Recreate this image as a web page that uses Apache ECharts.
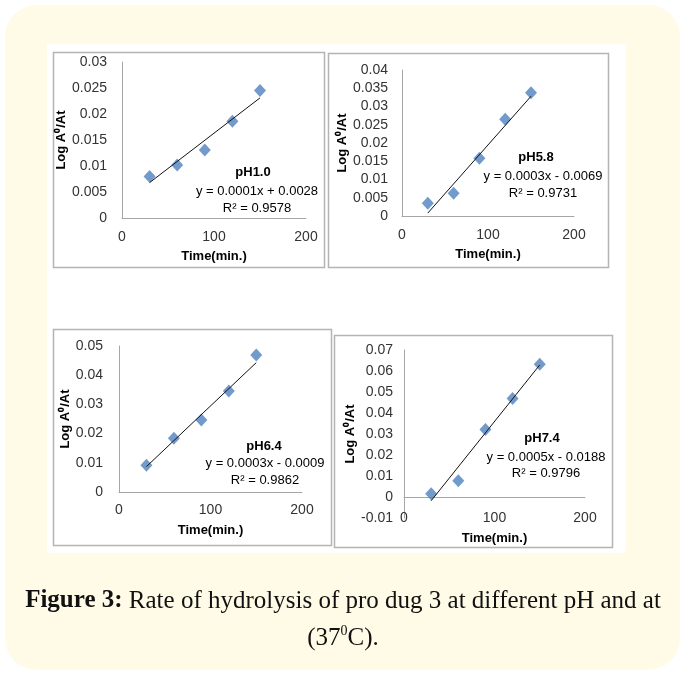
<!DOCTYPE html>
<html>
<head>
<meta charset="utf-8">
<script src="https://cdn.jsdelivr.net/npm/echarts@6/dist/echarts.min.js"></script>
<style>
html,body{margin:0;padding:0;background:#ffffff;}
#c{width:680px;height:675px;}
</style>
</head>
<body>
<div id="c"></div>
<script>
// ---- data ----
const times = [30, 60, 90, 120, 150];
const ph10 = [0.0080, 0.0102, 0.0131, 0.0186, 0.0245];
const ph58 = [0.0035, 0.0062, 0.0158, 0.0265, 0.0338];
const ph64 = [0.0092, 0.0184, 0.0247, 0.0346, 0.0469];
const ph74 = [0.0016, 0.0077, 0.0322, 0.0469, 0.0632];

const trendX = [30, 150];
const trend10 = [0.0068, 0.0231];
const trend58 = [0.0008, 0.0328];
const trend64 = [0.0087, 0.0443];
const trend74 = [-0.0018, 0.0629];

const phLabels = ['pH1.0', 'pH5.8', 'pH6.4', 'pH7.4'];
const eqLabels = ['y = 0.0001x + 0.0028', 'y = 0.0003x - 0.0069', 'y = 0.0003x - 0.0009', 'y = 0.0005x - 0.0188'];
const r2Labels = ['R\u00B2 = 0.9578', 'R\u00B2 = 0.9731', 'R\u00B2 = 0.9862', 'R\u00B2 = 0.9796'];

const xTicks = {min: 0, max: 200, interval: 100};
const yTicks = [
  {min: 0, max: 0.03, interval: 0.005},
  {min: 0, max: 0.04, interval: 0.005},
  {min: 0, max: 0.05, interval: 0.01},
  {min: -0.01, max: 0.07, interval: 0.01}
];
const xTitle = 'Time(min.)';
const yTitle = 'Log A\u2070/At';
const captionBold = 'Figure 3:';
const captionRest = ' Rate of hydrolysis of pro dug 3 at different pH and at';
const captionLine2a = '(37';
const captionSup = '0';
const captionLine2b = 'C).';

// ---- layout ----
const FONT = '"Liberation Sans", Arial, sans-serif';
const grids = [
  {left: 122, top: 62, width: 184, height: 156},
  {left: 402, top: 70, width: 172, height: 146},
  {left: 119, top: 346, width: 183, height: 146},
  {left: 404, top: 350, width: 181, height: 168}
];
const yLabelMargin = [15, 14, 16, 11];
const yNameGap = [45, 50, 42, 47];
const xLabelMargin = [12, 12, 11, -7];
const xNameGap = [32, 32, 32, 14];
const panels = [
  [53, 52, 271, 215],
  [328, 53, 280, 214],
  [53, 329, 278, 216],
  [334, 335, 278, 212]
];
const annPos = [
  [[253, 172], [257, 191], [257, 208]],
  [[536, 157], [543, 176], [543, 193]],
  [[264, 446], [265, 463], [265, 480]],
  [[542, 438], [546, 457], [546, 473]]
];

const seriesVals = [ph10, ph58, ph64, ph74];
const trendVals = [trend10, trend58, trend64, trend74];

const axisColor = '#a6a6a6';
const labelColor = '#333333';

const xAxes = [], yAxes = [], series = [];
for (let i = 0; i < 4; i++) {
  xAxes.push({
    gridIndex: i, type: 'value', min: xTicks.min, max: xTicks.max, interval: xTicks.interval,
    name: xTitle, nameLocation: 'middle', nameGap: xNameGap[i],
    nameTextStyle: {fontFamily: FONT, fontSize: 13, fontWeight: 'bold', color: '#000'},
    axisLine: {show: true, onZero: true, lineStyle: {color: axisColor, width: 1}},
    axisTick: {show: false},
    splitLine: {show: false},
    axisLabel: {fontFamily: FONT, fontSize: 14, color: labelColor, margin: xLabelMargin[i]}
  });
  yAxes.push({
    gridIndex: i, type: 'value', min: yTicks[i].min, max: yTicks[i].max, interval: yTicks[i].interval,
    name: yTitle, nameLocation: 'middle', nameGap: yNameGap[i],
    nameTextStyle: {fontFamily: FONT, fontSize: 13, fontWeight: 'bold', color: '#000'},
    axisLine: {show: true, onZero: false, lineStyle: {color: axisColor, width: 1}},
    axisTick: {show: false},
    splitLine: {show: false},
    axisLabel: {fontFamily: FONT, fontSize: 14, color: labelColor, margin: yLabelMargin[i]}
  });
  series.push({
    type: 'scatter', xAxisIndex: i, yAxisIndex: i,
    data: times.map((t, k) => [t, seriesVals[i][k]]),
    symbol: 'diamond', symbolSize: [12, 13],
    itemStyle: {color: '#4f81bd'}, z: 2, silent: true
  });
  series.push({
    type: 'line', xAxisIndex: i, yAxisIndex: i,
    data: trendX.map((t, k) => [t, trendVals[i][k]]),
    showSymbol: false, symbol: 'none',
    lineStyle: {color: '#111', width: 1}, z: 3, silent: true, animation: false
  });
}

const graphic = [];
// background
graphic.push({type: 'rect', z: -100, silent: true, shape: {x: 5, y: 5, width: 675, height: 665, r: 32}, style: {fill: '#fffbe7'}});
graphic.push({type: 'rect', z: -99, silent: true, shape: {x: 47, y: 44, width: 579, height: 509}, style: {fill: '#ffffff'}});
panels.forEach(p => {
  graphic.push({type: 'rect', z: -98, silent: true,
    shape: {x: p[0] + 0.5, y: p[1] + 0.5, width: p[2], height: p[3]},
    style: {fill: '#ffffff', stroke: '#b4b4b4', lineWidth: 1.5}});
});
// annotations
for (let i = 0; i < 4; i++) {
  const texts = [phLabels[i], eqLabels[i], r2Labels[i]];
  texts.forEach((t, j) => {
    graphic.push({type: 'text', z: 10, silent: true,
      style: {text: t, x: annPos[i][j][0], y: annPos[i][j][1],
        font: (j === 0 ? 'bold ' : '') + '13px ' + FONT,
        fill: '#000', align: 'center', verticalAlign: 'middle',
        textAlign: 'center', textVerticalAlign: 'middle'}});
  });
}
// caption
const CAPFONT = '"Liberation Serif", "DejaVu Serif", serif';
const CAPSIZE = 25;
graphic.push({type: 'text', z: 10, silent: true,
  style: {text: '{b|' + captionBold + '}{n|' + captionRest + '}', x: 343, y: 601,
    align: 'center', verticalAlign: 'middle', textAlign: 'center', textVerticalAlign: 'middle',
    fill: '#111', fontFamily: CAPFONT, fontSize: CAPSIZE,
    rich: {b: {fontFamily: CAPFONT, fontSize: CAPSIZE, fontWeight: 'bold', fill: '#111', color: '#111'},
           n: {fontFamily: CAPFONT, fontSize: CAPSIZE, fill: '#111', color: '#111'}}}});
graphic.push({type: 'text', z: 10, silent: true,
  style: {text: '{n|' + captionLine2a + '}{s|' + captionSup + '}{n|' + captionLine2b + '}', x: 343, y: 638,
    fill: '#111', fontFamily: CAPFONT, fontSize: CAPSIZE,
    align: 'center', verticalAlign: 'middle', textAlign: 'center', textVerticalAlign: 'middle',
    rich: {n: {fontFamily: CAPFONT, fontSize: CAPSIZE, fill: '#111', color: '#111', lineHeight: 28},
           s: {fontFamily: CAPFONT, fontSize: 14, fill: '#111', color: '#111', verticalAlign: 'top', lineHeight: 16}}}});

const chart = echarts.init(document.getElementById('c'), null, {renderer: 'canvas'});
chart.setOption({
  animation: false,
  backgroundColor: '#ffffff',
  grid: grids.map(g => Object.assign({containLabel: false}, g)),
  xAxis: xAxes,
  yAxis: yAxes,
  series: series,
  graphic: graphic
});
</script>
</body>
</html>
